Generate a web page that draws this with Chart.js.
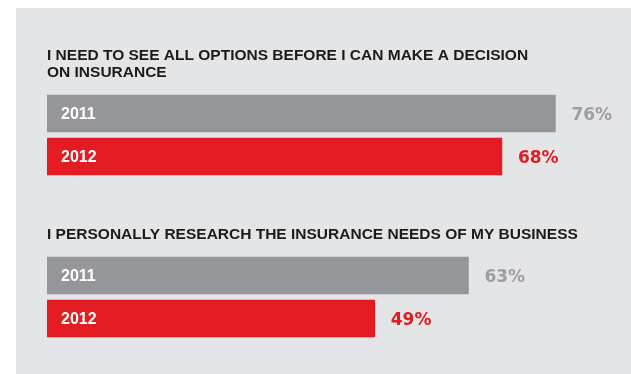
<!DOCTYPE html>
<html>
<head>
<meta charset="utf-8">
<script src="https://cdn.jsdelivr.net/npm/chart.js@4.4.1/dist/chart.umd.min.js"></script>
<style>
  body { margin: 0; background: #fff; width: 631px; height: 374px; overflow: hidden; position: relative; }
  .panel { position: absolute; left: 16px; top: 8px; width: 615px; height: 366px; background: #e4e5e7; }
  canvas { position: absolute; left: 0; }
  #chart-one { top: 8px; }
  #chart-two { top: 178px; }
</style>
</head>
<body>
<div class="panel"></div>
<canvas id="chart-one" width="631" height="170"></canvas>
<canvas id="chart-two" width="631" height="162"></canvas>
<script>
// Survey data
const years = ['2011', '2012'];
const questions = [
    ['I NEED TO SEE ALL OPTIONS BEFORE I CAN MAKE A DECISION', 'ON INSURANCE'],
    ['I PERSONALLY RESEARCH THE INSURANCE NEEDS OF MY BUSINESS']
];
const share2011 = [76, 63];
const share2012 = [68, 49];

const barColors = ['#959699', '#e31b23'];
const valueColors = ['#9d9ea1', '#e31b23'];
const FONT = '"Liberation Sans", Arial, sans-serif';
const WIDE_FONT = '"DejaVu Sans", sans-serif';

// year inside the bar, percentage after its end
const barLabels = {
    id: 'barLabels',
    afterDatasetsDraw(chart) {
        const ctx = chart.ctx;
        const meta = chart.getDatasetMeta(0);
        const values = chart.data.datasets[0].data;
        ctx.save();
        ctx.textBaseline = 'middle';
        meta.data.forEach((bar, i) => {
            ctx.font = 'bold 16px ' + FONT;
            ctx.fillStyle = '#ffffff';
            ctx.textAlign = 'left';
            ctx.fillText(chart.data.labels[i], chart.chartArea.left + 14, bar.y + 1);

            ctx.font = 'bold 17px ' + WIDE_FONT;
            ctx.fillStyle = valueColors[i];
            ctx.fillText(values[i] + '%', bar.x + 16, bar.y + 2);
        });
        ctx.restore();
    }
};

function makeChart(id, q, titlePadTop) {
    let ctx = document.querySelector(id).getContext('2d');
    return new Chart(ctx, {
        type: 'bar',
        data: {
            labels: years,
            datasets: [{
                data: [share2011[q], share2012[q]],
                backgroundColor: barColors,
                barThickness: 37,
                categoryPercentage: 1,
                barPercentage: 1
            }]
        },
        options: {
            indexAxis: 'y',
            responsive: false,
            animation: false,
            layout: { padding: { left: 47, right: 0, top: 0, bottom: 0 } },
            scales: {
                x: { display: false, min: 0, max: 87.3 },
                y: { display: false }
            },
            plugins: {
                legend: { display: false },
                tooltip: { enabled: false },
                title: {
                    display: true,
                    text: questions[q],
                    align: 'start',
                    color: '#1b1b1b',
                    font: { family: FONT, size: 15.5, weight: 'bold', lineHeight: 17 / 15.5 },
                    padding: { top: titlePadTop, bottom: 11 }
                }
            }
        },
        plugins: [barLabels]
    });
}

makeChart('#chart-one', 0, 39);
makeChart('#chart-two', 1, 48);
</script>
</body>
</html>
